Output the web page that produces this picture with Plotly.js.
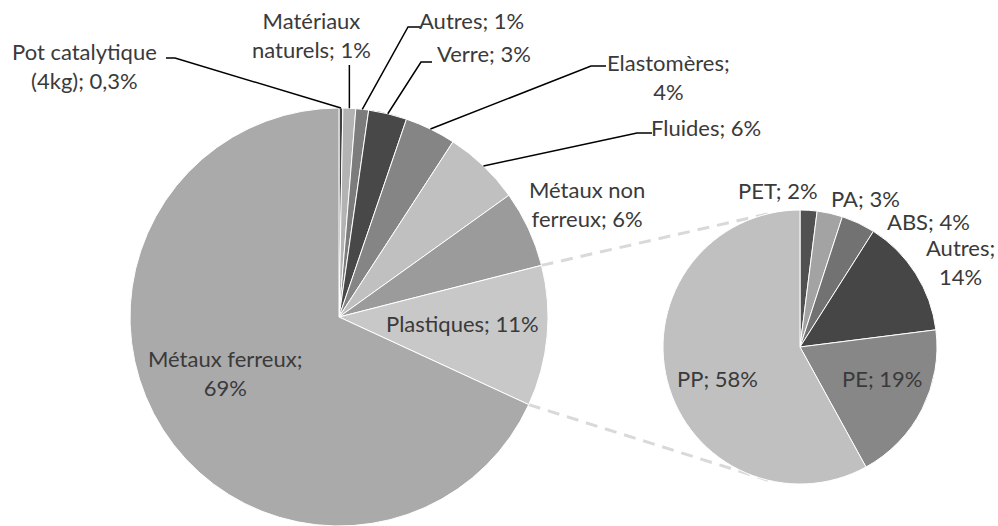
<!DOCTYPE html>
<html>
<head>
<meta charset="utf-8">
<script src="https://cdn.plot.ly/plotly-3.0.1.min.js"></script>
<style>html,body{margin:0;padding:0;background:#fff;}#chart{width:998px;height:526px;}</style>
</head>
<body>
<div id="chart"></div>
<script>
// ---- data ----
const mainLabels = ['Pot catalytique (4kg)', 'Matériaux naturels', 'Autres', 'Verre', 'Elastomères', 'Fluides', 'Métaux non ferreux', 'Plastiques', 'Métaux ferreux'];
const mainValues = [0.3, 1, 1, 3, 4, 6, 6, 11, 69];
const subLabels = ['PET', 'PA', 'ABS', 'Autres', 'PE', 'PP'];
const subValues = [2, 3, 4, 14, 19, 58];

// ---- styling ----
const mainColors = ['#404040', '#b3b3b3', '#7c7c7c', '#474847', '#858585', '#c0c0c0', '#9b9b9b', '#c8c8c8', '#aaaaaa'];
const subColors = ['#515151', '#a3a3a3', '#727272', '#464646', '#878787', '#c0c0c0'];

const W = 998, H = 526;
const mainDomain = {x: [128 / W, 550 / W], y: [0, 2 * (H - 317) / H]};
const subDomain = {x: [663 / W, 937 / W], y: [1 - 484 / H, 1 - 210 / H]};

function geom(d) {
  const x0 = d.x[0] * W, x1 = d.x[1] * W, y0 = (1 - d.y[1]) * H, y1 = (1 - d.y[0]) * H;
  return {cx: (x0 + x1) / 2, cy: (y0 + y1) / 2, r: Math.min(x1 - x0, y1 - y0) / 2};
}
const gm = geom(mainDomain), gs = geom(subDomain);
function pt(g, deg, f) {
  const a = deg * Math.PI / 180, rr = g.r * (f || 1);
  return [g.cx + rr * Math.sin(a), g.cy - rr * Math.cos(a)];
}
function angles(vals) {
  const tot = vals.reduce((a, b) => a + b, 0);
  let c = 0; const out = [];
  vals.forEach(v => { const s = c / tot * 360; c += v; out.push({s: s, e: c / tot * 360, m: (s + (c / tot * 360)) / 2}); });
  return out;
}
const ma = angles(mainValues), sa = angles(subValues);
const P = (p) => (p[0] / W) + ',' + (1 - p[1] / H);

function fmtPct(v) { return String(v).replace('.', ',') + '%'; }
function makeText(label, v, brAt) {
  let t = label + '; ' + fmtPct(v);
  if (brAt > 0) {
    let n = 0;
    t = t.replace(/ /g, m => (++n === brAt ? '<br>' : m));
  }
  return t;
}

// label placement (px) and line-break position
const mainPos = [
  {x: 84, y: 66, br: 2}, {x: 311, y: 35, br: 1}, {x: 471, y: 21, br: 0}, {x: 484, y: 53, br: 0},
  {x: 668, y: 77, br: 1}, {x: 706, y: 127, br: 0}, {x: 587, y: 204, br: 2}, {x: 462, y: 323, br: 0},
  {x: 225, y: 373, br: 2}
];
const subPos = [
  {x: 778, y: 191, br: 0}, {x: 865, y: 198, br: 0}, {x: 928, y: 222, br: 0}, {x: 960, y: 262, br: 1},
  {x: 882, y: 378, br: 0}, {x: 717, y: 378, br: 0}
];
const font = {family: 'Lato, sans-serif', size: 22, color: '#3a3a3a'};
const annotations = [];
mainLabels.forEach((l, i) => annotations.push({xref: 'paper', yref: 'paper', x: mainPos[i].x / W, y: 1 - mainPos[i].y / H,
  text: makeText(l, mainValues[i], mainPos[i].br), showarrow: false, xanchor: 'center', yanchor: 'middle', align: 'center', font: font}));
subLabels.forEach((l, i) => annotations.push({xref: 'paper', yref: 'paper', x: subPos[i].x / W, y: 1 - subPos[i].y / H,
  text: makeText(l, subValues[i], subPos[i].br), showarrow: false, xanchor: 'center', yanchor: 'middle', align: 'center', font: font}));

// leader lines: [slice index, start point near label, elbow point]
const leaders = [
  [0, [166, 58], [175, 58]],
  [1, null, null],
  [2, [421, 27], [408, 27]],
  [3, [432, 62], [421, 62]],
  [4, [606, 66], [591, 66]],
  [5, [652, 133], [637, 133]]
];
const shapes = [];
leaders.forEach(L => {
  const e = pt(gm, ma[L[0]].m);
  let path;
  if (L[1] === null) path = 'M ' + P([e[0], 65]) + ' L ' + P(e);
  else path = 'M ' + P(L[1]) + ' L ' + P(L[2]) + ' L ' + P(e);
  shapes.push({type: 'path', xref: 'paper', yref: 'paper', path: path, line: {color: '#000000', width: 1.5}, layer: 'above'});
});
// connector dashed lines between the Plastiques slice and the second pie
const pi = mainLabels.indexOf('Plastiques');
const c1a = pt(gm, ma[pi].s), c2a = pt(gm, ma[pi].e);
const c1b = pt(gs, 347.5), c2b = pt(gs, 193.5);
[[c1a, c1b], [c2a, c2b]].forEach(s => shapes.push({type: 'line', xref: 'paper', yref: 'paper',
  x0: s[0][0] / W, y0: 1 - s[0][1] / H, x1: s[1][0] / W, y1: 1 - s[1][1] / H,
  line: {color: '#d9d9d9', width: 3, dash: '12px,8px'}, layer: 'below'}));

const data = [
  {type: 'pie', labels: mainLabels, values: mainValues, sort: false, direction: 'clockwise', rotation: 0,
   textinfo: 'none', hoverinfo: 'label+value', marker: {colors: mainColors, line: {color: '#ffffff', width: 1}},
   domain: mainDomain, showlegend: false},
  {type: 'pie', labels: subLabels, values: subValues, sort: false, direction: 'clockwise', rotation: 0,
   textinfo: 'none', hoverinfo: 'label+value', marker: {colors: subColors, line: {color: '#ffffff', width: 1}},
   domain: subDomain, showlegend: false}
];
const layout = {width: W, height: H, margin: {l: 0, r: 0, t: 0, b: 0}, paper_bgcolor: '#ffffff',
  separators: ', ', showlegend: false, annotations: annotations, shapes: shapes};
Plotly.newPlot('chart', data, layout, {staticPlot: true, displayModeBar: false});
</script>
</body>
</html>
